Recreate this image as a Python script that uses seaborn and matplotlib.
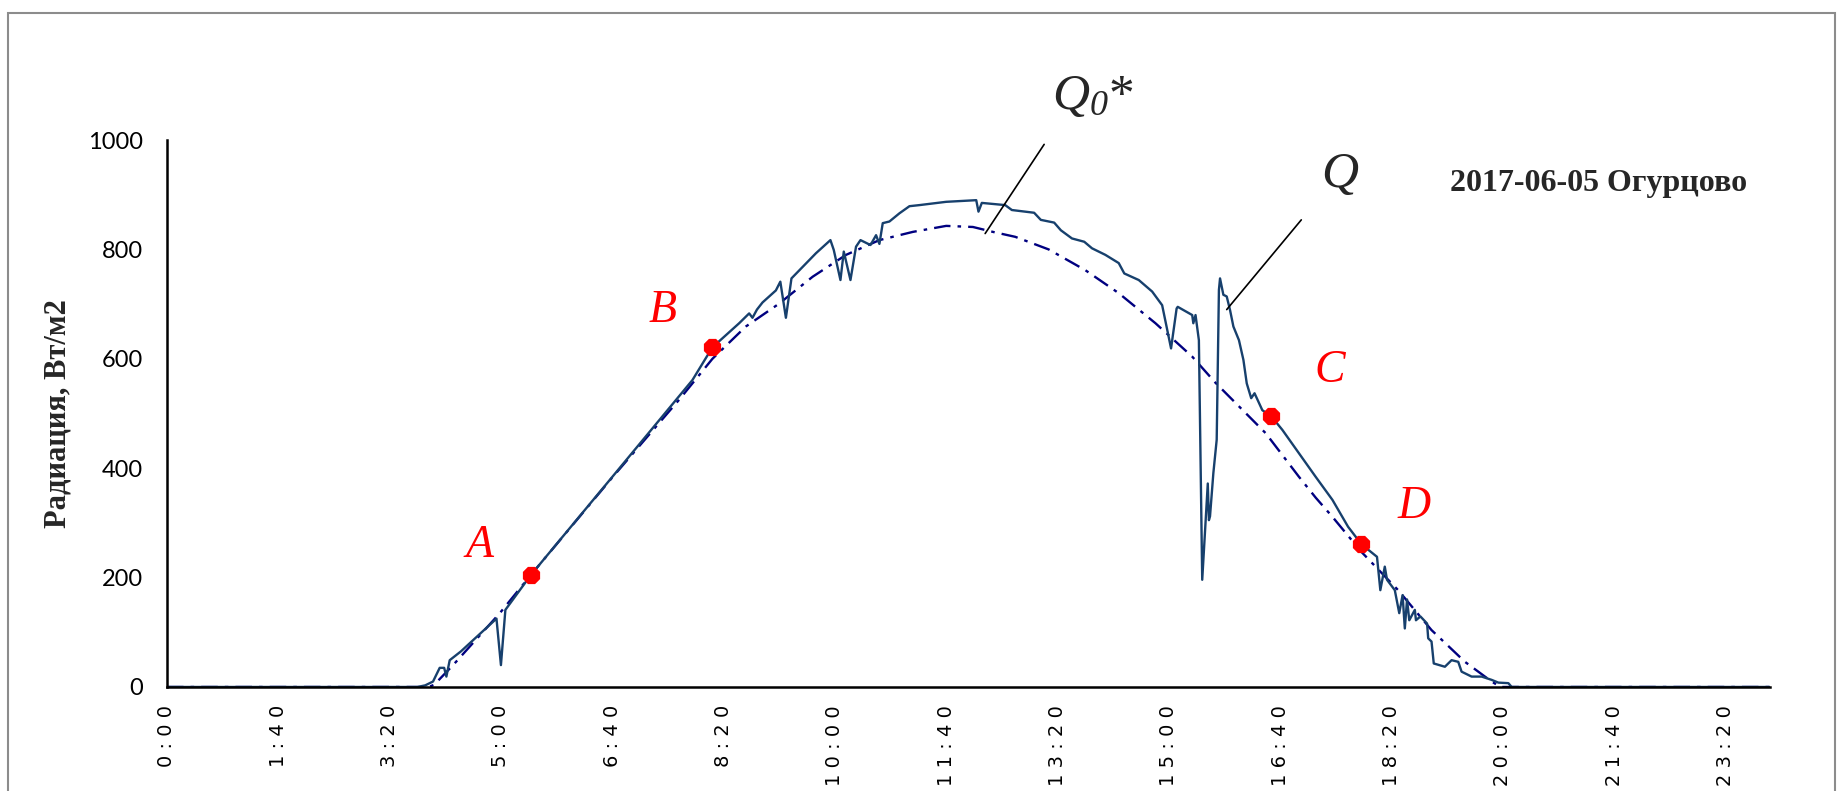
import matplotlib
matplotlib.use('Agg')
import matplotlib.pyplot as plt
from matplotlib.patches import Rectangle
import pandas as pd
import seaborn as sns

# Time in minutes from midnight, radiation in W/m2
q_min = [0, 225, 232, 239, 245, 249, 251, 254, 264, 296, 300, 304, 327, 400, 472,
         490, 514, 523, 526, 530, 535, 547, 551, 556, 561, 583, 596, 599, 605, 608,
         614, 619, 623, 632, 637, 640, 643, 649, 658, 667, 676, 700, 727, 729, 732,
         753, 759, 779, 785, 797, 803, 813, 824, 831, 843, 855, 860, 873, 885, 894,
         902, 907, 908, 921, 922, 924, 927, 930, 935, 936, 937, 940, 943, 945, 946,
         949, 952, 955, 958, 963, 967, 970, 974, 977, 984, 992, 1002, 1017, 1032, 1047,
         1061, 1073, 1087, 1090, 1094, 1096, 1103, 1107, 1110, 1112, 1114, 1116, 1121, 1122, 1126,
         1132, 1133, 1136, 1138, 1148, 1154, 1160, 1163, 1172, 1181, 1190, 1196, 1205, 1208, 1440]
q_val = [0, 0, 3, 10, 35, 35, 19, 49, 65, 125, 40, 141, 205, 384, 561,
         621, 665, 683, 675, 690, 703, 725, 741, 675, 747, 793, 817, 799, 744, 796,
         744, 805, 817, 808, 826, 810, 848, 851, 866, 879, 881, 887, 890, 869, 885,
         881, 872, 867, 854, 849, 835, 820, 814, 802, 790, 775, 756, 744, 723, 698,
         619, 692, 695, 680, 665, 680, 634, 196, 372, 305, 312, 391, 452, 726, 747,
         717, 714, 689, 659, 634, 598, 555, 528, 537, 506, 495, 470, 427, 384, 342,
         293, 261, 238, 177, 220, 196, 177, 135, 168, 107, 160, 122, 141, 122, 129,
         116, 89, 83, 43, 37, 49, 46, 28, 19, 19, 13, 8, 7, 0, 0]

q0_min = [0, 235, 240, 257, 299, 327, 400, 460, 490, 520, 550, 580, 610, 640, 670,
          700, 724, 742, 762, 792, 825, 855, 888, 921, 942, 987, 1017, 1032, 1047, 1073,
          1106, 1136, 1166, 1190, 1198, 1440]
q0_val = [0, 0, 4, 40, 135, 205, 383, 525, 600, 659, 701, 750, 790, 817, 832,
          843, 841, 832, 823, 800, 762, 720, 665, 604, 556, 464, 384, 346, 311, 247,
          177, 104, 46, 10, 0, 0]

# marked points
pt_names = ['A', 'B', 'C', 'D']
pt_min = [327, 490, 992, 1073]
pt_val = [205, 621, 495, 261]
lbl_min = [281, 445, 1045, 1120]
lbl_val = [259, 688, 579, 329]

x_ticks = [0, 100, 200, 300, 400, 500, 600, 700, 800, 900, 1000, 1100, 1200, 1300, 1400]
x_labels = ['0:00', '1:40', '3:20', '5:00', '6:40', '8:20', '10:00', '11:40',
            '13:20', '15:00', '16:40', '18:20', '20:00', '21:40', '23:20']
y_ticks = [0, 200, 400, 600, 800, 1000]

df_q = pd.DataFrame({'t': q_min, 'Q': q_val})
df_q0 = pd.DataFrame({'t': q0_min, 'Q0': q0_val})
df_pts = pd.DataFrame({'t': pt_min, 'v': pt_val})

sns.set_style('white')
# math is only used for the Q labels, so make it all italic serif
plt.rcParams['mathtext.fontset'] = 'custom'
plt.rcParams['mathtext.it'] = 'Liberation Serif:italic'
plt.rcParams['mathtext.rm'] = 'Liberation Serif:italic'

fig = plt.figure(figsize=(18.41, 7.91), dpi=100)
ax = fig.add_axes([0.0907, 0.1315, 0.8707, 0.6915])

sns.lineplot(data=df_q0, x='t', y='Q0', ax=ax, color='#000080', linewidth=1.7,
             dashes=(7, 3, 1.5, 3), estimator=None)
sns.lineplot(data=df_q, x='t', y='Q', ax=ax, color='#17406D', linewidth=1.7,
             estimator=None)
sns.scatterplot(data=df_pts, x='t', y='v', ax=ax, color='#FF0000', marker='8',
                s=180, linewidth=0, zorder=5)

for name, xm, yv in zip(pt_names, lbl_min, lbl_val):
    ax.text(xm, yv, name, color='#FF0000', fontsize=33, family='Liberation Serif',
            style='italic', ha='center', va='center')

# curve labels with leader lines
ax.text(832, 1079, r'$Q_{0}$*', fontsize=37, family='Liberation Serif',
        ha='center', va='center', clip_on=False)
ax.plot([788, 735], [992, 829], color='black', linewidth=1.2)
ax.text(1054, 937, r'$Q$', fontsize=37, family='Liberation Serif', ha='center', va='center')
ax.plot([1019, 952], [854, 690], color='black', linewidth=1.2)

ax.text(1153, 921, '2017-06-05 Огурцово', fontsize=23, family='Liberation Serif',
        fontweight='bold', ha='left', va='center')

ax.set_xlim(0, 1440)
ax.set_ylim(0, 1000)
ax.set_xticks(x_ticks)
ax.set_xticklabels([' '.join(s) for s in x_labels], rotation=90,
                   family='DejaVu Sans', fontsize=14)
ax.set_yticks(y_ticks)
ax.set_yticklabels([str(v) for v in y_ticks], family='Lato', fontsize=17)
ax.set_xlabel('')
ax.set_ylabel('Радиация, Вт/м2', family='Liberation Serif', fontweight='bold', fontsize=22)
ax.yaxis.set_label_coords(-0.0587, 0.5)

for side in ['top', 'right']:
    ax.spines[side].set_visible(False)
for side in ['left', 'bottom']:
    ax.spines[side].set_color('black')
    ax.spines[side].set_linewidth(1.8)
ax.tick_params(axis='both', direction='out', length=7, width=1.5, color='black',
               labelcolor='black', pad=6)
ax.tick_params(axis='y', pad=10)

# chart area border
fig.patches.append(Rectangle((8 / 1841, -0.05), (1835 - 8) / 1841, 0.9836 + 0.05,
                             transform=fig.transFigure, fill=False,
                             edgecolor='#8c8c8c', linewidth=1.5))

fig.savefig('out.png', dpi=100)
